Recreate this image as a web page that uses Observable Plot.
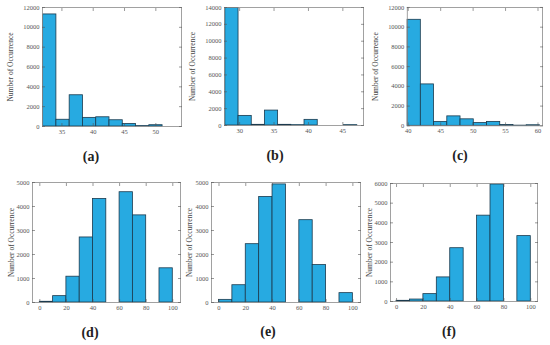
<!DOCTYPE html>
<html><head><meta charset="utf-8">
<script src="https://cdn.jsdelivr.net/npm/d3@7"></script>
<script src="https://cdn.jsdelivr.net/npm/@observablehq/plot@0.6"></script>
<style>
body{margin:0;background:#fff;}
#root{position:relative;width:550px;height:345px;overflow:hidden;font-family:"Liberation Serif","Times New Roman",serif;}
.panel{position:absolute;}
.panel svg, .panel svg text{font-family:"Liberation Serif","Times New Roman",serif !important;}
.cap{position:absolute;font-family:"Liberation Serif","Times New Roman",serif;font-size:14px;font-weight:bold;color:#222;transform:translate(-50%,-50%);white-space:nowrap;}
</style></head><body><div id="root"></div>
<script>
// ---- data ----
const edgesA = [32, 34.12, 36.24, 38.36, 40.48, 42.6, 44.72, 46.84, 48.96, 51.08];
const countsA = [11300, 680, 3150, 870, 930, 630, 260, 40, 130];
const xTicksA = [35, 40, 45, 50];
const yTicksA = [0, 2000, 4000, 6000, 8000, 10000, 12000];

const edgesB = [27.92, 29.84, 31.76, 33.67, 35.59, 37.51, 39.43, 41.35, 43.26, 45.18, 47.1];
const countsB = [13950, 1140, 80, 1770, 80, 40, 670, 0, 0, 40];
const xTicksB = [30, 35, 40, 45];
const yTicksB = [0, 2000, 4000, 6000, 8000, 10000, 12000, 14000];

const edgesC = [39.9, 41.94, 43.98, 46.02, 48.06, 50.1, 52.14, 54.18, 56.22, 58.26, 60.3];
const countsC = [10750, 4200, 400, 960, 660, 280, 400, 90, 20, 60];
const xTicksC = [40, 45, 50, 55, 60];
const yTicksC = [0, 2000, 4000, 6000, 8000, 10000, 12000];

const edgesDEF = [0, 10, 20, 30, 40, 50, 60, 70, 80, 90, 100];
const countsD = [30, 265, 1075, 2710, 4315, 0, 4595, 3630, 0, 1425];
const countsE = [110, 720, 2430, 4400, 4920, 0, 3430, 1560, 0, 390];
const countsF = [35, 100, 375, 1225, 2710, 0, 4365, 5950, 0, 3325];
const xTicksDEF = [0, 20, 40, 60, 80, 100];
const yTicksDE = [0, 1000, 2000, 3000, 4000, 5000];
const yTicksF = [0, 1000, 2000, 3000, 4000, 5000, 6000];

const yLabel = "Number of Occurrence";
const captions = ["(a)", "(b)", "(c)", "(d)", "(e)", "(f)"];

// ---- layout ----
const panels = [
  {edges: edgesA, counts: countsA, xd: [31.9, 54.1], yd: [0, 12000], xt: xTicksA, yt: yTicksA, L: 42, R: 181, T: 7, B: 126, lo: 35, cx: 91, cy: 157},
  {edges: edgesB, counts: countsB, xd: [27.8, 48.0], yd: [0, 14000], xt: xTicksB, yt: yTicksB, L: 224, R: 363, T: 7, B: 125, lo: 35, cx: 275, cy: 156},
  {edges: edgesC, counts: countsC, xd: [39.85, 60.7], yd: [0, 12000], xt: xTicksC, yt: yTicksC, L: 407, R: 543, T: 7, B: 126, lo: 35, cx: 460, cy: 156},
  {edges: edgesDEF, counts: countsD, xd: [-5.5, 105.8], yd: [0, 5000], xt: xTicksDEF, yt: yTicksDE, L: 32, R: 180, T: 182, B: 302, lo: 24, cx: 90, cy: 333},
  {edges: edgesDEF, counts: countsE, xd: [-5.6, 105.7], yd: [0, 5000], xt: xTicksDEF, yt: yTicksDE, L: 211, R: 360, T: 182, B: 302, lo: 25, cx: 268, cy: 332},
  {edges: edgesDEF, counts: countsF, xd: [-4.5, 105], yd: [0, 6000], xt: xTicksDEF, yt: yTicksF, L: 390, R: 537, T: 183, B: 301, lo: 24, cx: 449, cy: 332}
];

const root = document.getElementById("root");
const ml = 44, mr = 8, mt = 6, mb = 16;
const fmt = d => String(d);
const blank = () => "";
const axisColor = "#555";
const frameColor = "#8a8a8a";
const ff = "'Liberation Serif', 'Times New Roman', serif";

panels.forEach((p, i) => {
  const data = p.counts.map((c, k) => ({x1: p.edges[k], x2: p.edges[k + 1], c})).filter(d => d.c > 0);
  const chart = Plot.plot({
    width: (p.R - p.L) + ml + mr,
    height: (p.B - p.T) + mt + mb,
    marginLeft: ml, marginRight: mr, marginTop: mt, marginBottom: mb,
    style: {fontFamily: ff, background: "transparent", overflow: "visible"},
    x: {domain: p.xd},
    y: {domain: p.yd},
    marks: [
      Plot.rectY(data, {x1: "x1", x2: "x2", y1: 0, y2: "c", fill: "#27aae1", stroke: "#1b3a4e", strokeWidth: 0.8}),
      Plot.frame({stroke: frameColor, strokeWidth: 0.8}),
      Plot.axisX({anchor: "bottom", ticks: p.xt, tickSize: -3, tickPadding: 6, tickFormat: fmt, label: null, fontSize: 6.5, fontFamily: ff, color: axisColor, strokeWidth: 0.6}),
      Plot.axisX({anchor: "top", ticks: p.xt, tickSize: -3, tickFormat: blank, label: null, color: axisColor, strokeWidth: 0.6}),
      Plot.axisY({anchor: "left", ticks: p.yt, tickSize: -3, tickPadding: 6, tickFormat: fmt, label: null, fontSize: 6.5, fontFamily: ff, color: axisColor, strokeWidth: 0.6}),
      Plot.axisY({anchor: "left", ticks: [], label: yLabel, labelAnchor: "center", labelArrow: "none", labelOffset: p.lo, fontSize: 7.5, fontFamily: ff, color: "#444"}),
      Plot.axisY({anchor: "right", ticks: p.yt, tickSize: -3, tickFormat: blank, label: null, color: axisColor, strokeWidth: 0.6})
    ]
  });
  const wrap = document.createElement("div");
  wrap.className = "panel";
  wrap.style.left = (p.L - ml) + "px";
  wrap.style.top = (p.T - mt) + "px";
  wrap.appendChild(chart);
  root.appendChild(wrap);
  const cap = document.createElement("div");
  cap.className = "cap";
  cap.style.left = p.cx + "px";
  cap.style.top = p.cy + "px";
  cap.textContent = captions[i];
  root.appendChild(cap);
});
</script>
</body></html>
